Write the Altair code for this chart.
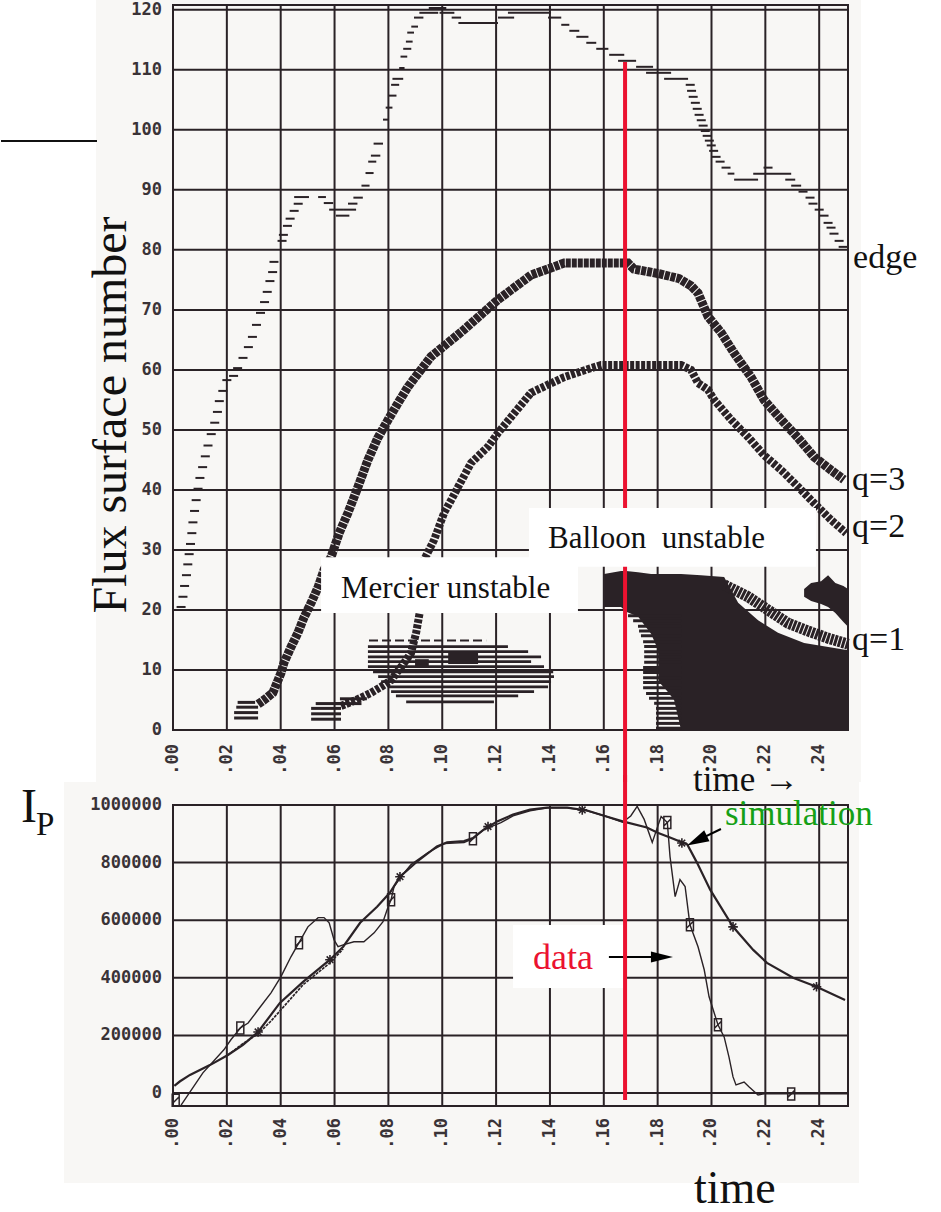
import altair as alt
import pandas as pd

# ---------------------------------------------------------------- styling
INK = "#2a2226"
LABEL_INK = "#3a3337"
PAPER = "#f8f7f5"
RED = "#eb1230"
GREEN = "#16a016"
TEXT_INK = "#111111"
SERIF = "Liberation Serif"
MONO = "DejaVu Sans Mono"
TICK_FONT_SIZE = 17

T_MAX = 0.2507
N_MAX = 120.8
I_LO, I_HI = -45000, 1000000
W, H_TOP, H_BOT, GAP = 675, 725, 301, 75

# ---------------------------------------------------------------- axis ticks
time_ticks = [0.00, 0.02, 0.04, 0.06, 0.08, 0.10, 0.12, 0.14, 0.16, 0.18, 0.20, 0.22, 0.24]
surface_ticks = [0, 10, 20, 30, 40, 50, 60, 70, 80, 90, 100, 110, 120]
current_ticks = [0, 200000, 400000, 600000, 800000, 1000000]

# ---------------------------------------------------------------- flux-surface panel data
# plasma edge: single dashes (time, surface)
edge_dashes = [
    (0.0030, 20.5), (0.0037, 22.2), (0.0043, 24.0), (0.0050, 25.8), (0.0055, 27.6),
    (0.0060, 29.3), (0.0065, 31.0), (0.0070, 32.8), (0.0074, 34.6), (0.0080, 36.5),
    (0.0086, 38.3), (0.0093, 40.2), (0.0100, 42.0), (0.0110, 43.8), (0.0120, 45.6),
    (0.0130, 47.4), (0.0142, 49.3), (0.0155, 51.2), (0.0165, 53.0), (0.0172, 54.8),
    (0.0185, 56.5), (0.0200, 58.3), (0.0225, 59.0), (0.0240, 60.3), (0.0260, 62.0),
    (0.0280, 63.8), (0.0295, 65.5), (0.0310, 67.5), (0.0325, 69.5), (0.0340, 71.3),
    (0.0350, 73.0), (0.0360, 74.8), (0.0370, 76.3), (0.0375, 78.0), (0.0405, 81.5),
    (0.0410, 82.5), (0.0425, 84.0), (0.0435, 85.2), (0.0450, 86.5), (0.0465, 87.7),
    (0.1921, 107.5), (0.1926, 106.5), (0.1932, 105.5), (0.1940, 104.5), (0.1947, 103.5),
    (0.1954, 102.5), (0.1962, 101.6), (0.1969, 100.7), (0.1977, 99.8), (0.1984, 99.0),
    (0.1992, 98.2), (0.1999, 97.4), (0.2008, 96.5), (0.2017, 95.5), (0.2032, 94.7),
    (0.2054, 93.7), (0.2210, 93.7), (0.2340, 89.7), (0.2366, 88.7), (0.2377, 87.7),
    (0.2400, 86.7), (0.2418, 85.7), (0.2433, 84.5), (0.2444, 83.7), (0.2455, 82.7),
    (0.2474, 81.5), (0.2489, 80.5),
]
# plasma edge: flat runs (start, end, surface)
edge_runs = [
    (0.0450, 0.0505, 88.8), (0.0539, 0.0568, 88.8), (0.0560, 0.0595, 87.8),
    (0.0580, 0.0635, 86.7), (0.0605, 0.0655, 85.7), (0.0635, 0.0680, 86.7),
    (0.0650, 0.0685, 87.7), (0.0670, 0.0705, 88.7), (0.0700, 0.0730, 90.7),
    (0.0715, 0.0745, 92.8), (0.0725, 0.0755, 94.7), (0.0735, 0.0770, 95.7),
    (0.0745, 0.0780, 97.7), (0.0780, 0.0800, 101.7), (0.0790, 0.0815, 103.7),
    (0.0800, 0.0830, 105.7), (0.0810, 0.0840, 107.5), (0.0815, 0.0855, 108.5),
    (0.0840, 0.0860, 110.3), (0.0845, 0.0870, 112.2), (0.0855, 0.0885, 113.5),
    (0.0865, 0.0890, 114.7), (0.0870, 0.0895, 116.2), (0.0885, 0.0910, 117.2),
    (0.0895, 0.0930, 118.7), (0.0915, 0.0985, 119.5), (0.0950, 0.1015, 120.3),
    (0.0990, 0.1045, 119.5), (0.1035, 0.1070, 118.7), (0.1060, 0.1207, 117.8),
    (0.1207, 0.1267, 118.7), (0.1244, 0.1404, 119.5), (0.1393, 0.1442, 118.7),
    (0.1442, 0.1472, 117.5), (0.1472, 0.1509, 116.5), (0.1498, 0.1543, 115.5),
    (0.1535, 0.1572, 114.5), (0.1572, 0.1617, 113.5), (0.1620, 0.1676, 112.5),
    (0.1653, 0.1720, 111.5), (0.1720, 0.1783, 110.5), (0.1757, 0.1850, 109.5),
    (0.1824, 0.1913, 108.5), (0.2060, 0.2085, 92.7), (0.2084, 0.2173, 91.7),
    (0.2155, 0.2296, 92.7), (0.2274, 0.2311, 91.7), (0.2296, 0.2333, 90.7),
]

# rational surfaces
q3_t = [0.0316, 0.0338, 0.0371, 0.0401, 0.0412, 0.0438, 0.0464, 0.0486, 0.0513, 0.0539,
        0.0561, 0.0587, 0.0617, 0.0650, 0.0687, 0.0724, 0.0761, 0.0799, 0.0836, 0.0873,
        0.0958, 0.1081, 0.1207, 0.1330, 0.1453, 0.1560, 0.1690, 0.1712, 0.1809, 0.1880,
        0.1924, 0.1950, 0.1987, 0.2036, 0.2084, 0.2147, 0.2195, 0.2259, 0.2321, 0.2381,
        0.2444, 0.2492]
q3_n = [4.3, 5.0, 6.2, 9.5, 11.2, 13.8, 16.2, 18.7, 21.2, 23.8,
        26.7, 28.8, 32.8, 36.2, 40.5, 45.0, 48.7, 51.7, 54.5, 57.2,
        62.2, 66.7, 71.7, 75.8, 77.8, 77.8, 77.8, 76.8, 76.0, 75.2,
        74.0, 72.8, 68.9, 66.2, 62.8, 58.8, 55.0, 51.7, 48.7, 45.5,
        43.3, 41.7]
q2_t = [0.0624, 0.0680, 0.0736, 0.0773, 0.0810, 0.0847, 0.0884, 0.0903, 0.0918, 0.0932,
        0.0970, 0.1007, 0.1033, 0.1059, 0.1107, 0.1170, 0.1207, 0.1330, 0.1453, 0.1553,
        0.1590, 0.1887, 0.1924, 0.1950, 0.1987, 0.2010, 0.2073, 0.2136, 0.2195, 0.2259,
        0.2322, 0.2381, 0.2444, 0.2500]
q2_n = [4.0, 5.0, 6.2, 7.2, 8.3, 10.5, 12.8, 16.2, 20.0, 28.3,
        31.7, 36.2, 38.3, 40.5, 44.5, 47.2, 49.5, 56.2, 58.8, 60.3,
        60.8, 60.8, 60.0, 57.8, 56.7, 55.0, 51.7, 48.8, 45.8, 43.3,
        40.5, 37.8, 35.0, 32.8]
q1_t = [0.2047, 0.2136, 0.2210, 0.2284, 0.2358, 0.2433, 0.2507]
q1_n = [24.2, 22.2, 20.0, 17.8, 16.5, 15.3, 14.3]
# marker rows where the q=3 and q=2 surfaces first appear (t0, t1, surface)
start_rows = [
    (0.0227, 0.0316, 2.0), (0.0227, 0.0316, 2.9), (0.0235, 0.0316, 3.8), (0.0240, 0.0305, 4.6),
    (0.0513, 0.0624, 1.8), (0.0513, 0.0624, 2.7), (0.0513, 0.0624, 3.6), (0.0530, 0.0640, 4.4),
    (0.0600, 0.0700, 4.4), (0.0620, 0.0720, 5.2),
]

# Mercier-unstable surfaces (t0, t1, surface)
mercier_rows = [
    (0.0724, 0.1244, 13.9), (0.0724, 0.1319, 13.05), (0.0724, 0.1367, 12.2),
    (0.0724, 0.1330, 11.4), (0.0724, 0.1378, 10.55), (0.0743, 0.1412, 9.7),
    (0.0762, 0.1415, 8.9), (0.0773, 0.1404, 8.05), (0.0799, 0.1393, 7.2),
    (0.0810, 0.1341, 6.4), (0.0828, 0.1282, 5.67), (0.0866, 0.1192, 4.7),
]
mercier_fringe = [(0.0728, 0.1163, 14.9)]
mercier_blocks = [(0.1022, 0.1133, 11.0, 13.0), (0.0899, 0.0950, 10.4, 11.8)]

# ballooning-unstable region
balloon_t = [0.1601, 0.1664, 0.1683, 0.1727, 0.1776, 0.1802, 0.1805, 0.1835, 0.1861,
             0.1887, 0.1961, 0.2047, 0.2099, 0.2173, 0.2247, 0.2344, 0.2507]
balloon_top = [26.0, 26.5, 26.5, 26.3, 26.0, 26.0, 26.0, 26.0, 26.0,
               26.0, 25.8, 25.5, 21.2, 18.3, 16.2, 14.5, 13.3]
balloon_bottom = [20.5, 20.5, 19.7, 18.9, 16.0, 13.3, 8.0, 6.5, 5.0,
                  0.0, 0.0, 0.0, 0.0, 0.0, 0.0, 0.0, 0.0]
balloon_stripes = [
    (0.1690, 19.05), (0.1709, 18.2), (0.1727, 17.3), (0.1731, 16.5), (0.1738, 15.7),
    (0.1746, 14.7), (0.1750, 13.9), (0.1750, 13.05), (0.1750, 12.2), (0.1750, 11.3),
    (0.1746, 10.4), (0.1746, 9.6), (0.1746, 8.7), (0.1746, 7.9), (0.1746, 7.05),
    (0.1757, 6.1), (0.1768, 5.3), (0.1787, 4.45), (0.1794, 3.6), (0.1794, 2.8),
    (0.1794, 1.95), (0.1794, 1.1), (0.1794, 0.3),
]
stripe_end = 0.1887
star_t = [0.2344, 0.2370, 0.2407, 0.2433, 0.2460, 0.2490, 0.2507]
star_lo = [22.2, 21.5, 21.0, 20.5, 19.5, 18.0, 17.2]
star_hi = [23.5, 24.5, 24.8, 25.8, 24.5, 24.0, 23.5]

sawtooth_time = 0.1679
sawtooth_edge = 111.3

# ---------------------------------------------------------------- plasma-current panel data
data_curve = [
    (0.0030, -42000), (0.0111, 70000), (0.0189, 150000), (0.0215, 185000), (0.0250, 226000),
    (0.0279, 243000), (0.0316, 289000), (0.0364, 348000), (0.0401, 404000), (0.0438, 473000),
    (0.0468, 522000), (0.0501, 577000), (0.0539, 609000), (0.0561, 609000), (0.0580, 591000),
    (0.0598, 532000), (0.0613, 508000), (0.0635, 515000), (0.0672, 525000), (0.0709, 525000),
    (0.0747, 556000), (0.0780, 595000), (0.0799, 647000), (0.0810, 671000), (0.0821, 717000),
    (0.0847, 751000), (0.0884, 793000), (0.0947, 835000), (0.1007, 866000), (0.1081, 870000),
    (0.1114, 883000), (0.1155, 915000), (0.1218, 939000), (0.1263, 962000), (0.1326, 980000),
    (0.1390, 990000), (0.1464, 990000), (0.1538, 980000), (0.1610, 960000), (0.1670, 940000),
    (0.1700, 962000), (0.1724, 995000), (0.1750, 950000), (0.1780, 870000), (0.1800, 925000),
    (0.1813, 960000), (0.1836, 939000), (0.1846, 821000), (0.1865, 682000), (0.1883, 741000),
    (0.1902, 717000), (0.1920, 584000), (0.1950, 508000), (0.1973, 428000), (0.1991, 334000),
    (0.2024, 237000), (0.2047, 195000), (0.2065, 125000), (0.2080, 56000), (0.2091, 28000),
    (0.2121, 38000), (0.2140, 21000), (0.2173, -7000), (0.2195, -3000), (0.2507, -3000),
]
sim_curve = [
    (0.0005, 25000), (0.0025, 40000), (0.0063, 63000), (0.0137, 97000), (0.0204, 132000),
    (0.0260, 167000), (0.0316, 212000), (0.0397, 313000), (0.0483, 386000), (0.0583, 463000),
    (0.0632, 508000), (0.0695, 591000), (0.0758, 647000), (0.0806, 696000), (0.0843, 751000),
    (0.0906, 803000), (0.0980, 856000), (0.1018, 870000), (0.1081, 875000), (0.1114, 885000),
    (0.1155, 915000), (0.1204, 943000), (0.1263, 967000), (0.1326, 984000), (0.1390, 991000),
    (0.1464, 991000), (0.1538, 981000), (0.1610, 960000), (0.1670, 943000), (0.1760, 922000),
    (0.1800, 904000), (0.1846, 887000), (0.1910, 863000), (0.1946, 800000), (0.1995, 706000),
    (0.2080, 577000), (0.2155, 497000), (0.2206, 452000), (0.2303, 400000), (0.2390, 369000),
    (0.2496, 323000),
]
sim_alt_curve = [
    (0.0204, 132000), (0.0260, 172000), (0.0316, 205000), (0.0364, 250000), (0.0401, 289000),
    (0.0483, 376000), (0.0583, 452000), (0.0632, 500000),
]
data_markers = [(0.0010, -25000), (0.0250, 226000), (0.0468, 522000), (0.0810, 671000),
                (0.1114, 883000), (0.1836, 939000), (0.1920, 584000), (0.2024, 237000),
                (0.2296, -3000)]
sim_markers = [(0.0316, 212000), (0.0583, 463000), (0.0843, 751000), (0.1170, 925000),
               (0.1520, 983000), (0.1890, 868000), (0.2080, 577000), (0.2390, 369000)]

# ---------------------------------------------------------------- helpers
XS = alt.Scale(domain=[0, T_MAX], nice=False, zero=False)
NS = alt.Scale(domain=[0, N_MAX], nice=False, zero=False)
IS = alt.Scale(domain=[I_LO, I_HI], nice=False, zero=False)

BOX_SHAPE = "M-0.5,-0.86H0.5V0.86H-0.5ZM0.5,-0.5L-0.5,0.5"
STAR_SHAPE = "M-0.8,0H0.8M0,-0.8V0.8M-0.55,-0.55L0.55,0.55M-0.55,0.55L0.55,-0.55"
HEAD_RIGHT = "M1,0L-1,-0.5L-1,0.5Z"
HEAD_LEFT = "M-1,0L1,-0.55L1,0.55Z"

one = pd.DataFrame({"k": [0]})


def xq(field):
    return alt.X(f"{field}:Q", scale=XS, axis=None)


def yn(field):
    return alt.Y(f"{field}:Q", scale=NS, axis=None)


def yi(field):
    return alt.Y(f"{field}:Q", scale=IS, axis=None)


def time_labels(y_px):
    # tick labels ".00", ".02", ... written upward below the panel
    return alt.Chart(pd.DataFrame({"t": time_ticks})).transform_calculate(
        s="substring(format(datum.t, '.2f'), 1)"
    ).mark_text(font=MONO, fontSize=TICK_FONT_SIZE, fontWeight="bold", color=LABEL_INK,
                angle=270, align="right", baseline="middle").encode(
        x=xq("t"), y=alt.value(y_px), text="s:N")


def value_labels(values, field, yenc):
    return alt.Chart(pd.DataFrame({field: values})).mark_text(
        font=MONO, fontSize=TICK_FONT_SIZE, fontWeight="bold", color=LABEL_INK, align="right",
        baseline="middle").encode(x=alt.value(-11), y=yenc(field),
                                  text=alt.Text(f"{field}:Q", format="d"))


def rows_layer(rows, width, dash=None):
    df = pd.DataFrame(rows, columns=["t0", "t1", "n"])
    kw = dict(color=INK, strokeWidth=width)
    if dash:
        kw["strokeDash"] = dash
    return alt.Chart(df).mark_rule(**kw).encode(x=xq("t0"), x2=alt.X2("t1:Q"), y=yn("n"))


# ================================================================ upper panel
top_bg = alt.Chart(one).mark_rect(color=PAPER).encode(
    x=alt.value(-77), x2=alt.value(688), y=alt.value(-5), y2=alt.value(777))
side_rule = alt.Chart(one).mark_rule(color=TEXT_INK, strokeWidth=2).encode(
    x=alt.value(-172), x2=alt.value(-76), y=alt.value(136))

vgrid = alt.Chart(pd.DataFrame({"t": time_ticks})).mark_rule(color=INK, strokeWidth=2).encode(
    x=xq("t"))
hgrid = alt.Chart(pd.DataFrame({"n": surface_ticks})).mark_rule(color=INK, strokeWidth=2).encode(
    y=yn("n"))
top_frame = alt.Chart(one).mark_rect(fillOpacity=0, stroke=INK, strokeWidth=2).encode(
    x=alt.value(0), x2=alt.value(W), y=alt.value(0), y2=alt.value(H_TOP))
top_xlab = time_labels(H_TOP + 14)
top_ylab = value_labels(surface_ticks, "n", yn)

edge_d = alt.Chart(pd.DataFrame(edge_dashes, columns=["t", "n"])).mark_tick(
    orient="horizontal", color=INK, size=9, thickness=2, opacity=1).encode(x=xq("t"), y=yn("n"))
edge_r = rows_layer(edge_runs, 2)

merc = rows_layer(mercier_rows, 2.8)
merc_f = rows_layer(mercier_fringe, 2, dash=[9, 4])
merc_b = alt.Chart(pd.DataFrame(mercier_blocks, columns=["t0", "t1", "n0", "n1"])).mark_rect(
    color=INK).encode(x=xq("t0"), x2=alt.X2("t1:Q"), y=yn("n0"), y2=alt.Y2("n1:Q"))

starts = rows_layer(start_rows, 3)

q3 = alt.Chart(pd.DataFrame({"t": q3_t, "n": q3_n})).mark_line(
    color=INK, strokeWidth=9, strokeDash=[5, 1]).encode(x=xq("t"), y=yn("n"))
q2 = alt.Chart(pd.DataFrame({"t": q2_t, "n": q2_n})).mark_line(
    color=INK, strokeWidth=8, strokeDash=[4, 1.5]).encode(x=xq("t"), y=yn("n"))

balloon = alt.Chart(pd.DataFrame({"t": balloon_t, "top": balloon_top, "bot": balloon_bottom})
                    ).mark_area(color=INK, opacity=1).encode(
    x=xq("t"), y=yn("top"), y2=alt.Y2("bot:Q"))
stripes_df = pd.DataFrame(balloon_stripes, columns=["t0", "n"])
stripes_df["t1"] = stripe_end
stripes = alt.Chart(stripes_df).mark_rule(color=INK, strokeWidth=3).encode(
    x=xq("t0"), x2=alt.X2("t1:Q"), y=yn("n"))
star = alt.Chart(pd.DataFrame({"t": star_t, "lo": star_lo, "hi": star_hi})).mark_area(
    color=INK, opacity=1).encode(x=xq("t"), y=yn("hi"), y2=alt.Y2("lo:Q"))
q1 = alt.Chart(pd.DataFrame({"t": q1_t, "n": q1_n})).mark_line(
    color=INK, strokeWidth=11, strokeDash=[3, 1]).encode(x=xq("t"), y=yn("n"))

merc_box = alt.Chart(pd.DataFrame({"t0": [0.0550], "t1": [0.1504], "n0": [19.5], "n1": [28.8]})
                     ).mark_rect(color="white").encode(
    x=xq("t0"), x2=alt.X2("t1:Q"), y=yn("n0"), y2=alt.Y2("n1:Q"))
merc_txt = alt.Chart(pd.DataFrame({"t": [0.0624], "n": [22.0], "s": ["Mercier unstable"]})
                     ).mark_text(font=SERIF, fontSize=31, color=TEXT_INK, align="left",
                                 baseline="alphabetic").encode(x=xq("t"), y=yn("n"), text="s:N")

red_top = alt.Chart(pd.DataFrame({"t": [sawtooth_time], "n": [sawtooth_edge]})).mark_rule(
    color=RED, strokeWidth=4).encode(x=xq("t"), y=yn("n"), y2=alt.value(H_TOP + GAP))

ball_box = alt.Chart(pd.DataFrame({"t0": [0.1322], "t1": [0.2388], "n0": [27.2], "n1": [37.0]})
                     ).mark_rect(color="white").encode(
    x=xq("t0"), x2=alt.X2("t1:Q"), y=yn("n0"), y2=alt.Y2("n1:Q"))
ball_txt = alt.Chart(pd.DataFrame({"t": [0.1393], "n": [30.3], "s": ["Balloon\u00a0 unstable"]})
                     ).mark_text(font=SERIF, fontSize=31, color=TEXT_INK, align="left",
                                 baseline="alphabetic").encode(x=xq("t"), y=yn("n"), text="s:N")

side_labels = alt.Chart(pd.DataFrame({
    "t": [0.2526, 0.2522, 0.2522, 0.2522],
    "n": [77.0, 40.0, 32.2, 13.3],
    "s": ["edge", "q=3", "q=2", "q=1"],
})).mark_text(font=SERIF, fontSize=34, color=TEXT_INK, align="left",
              baseline="alphabetic").encode(x=xq("t"), y=yn("n"), text="s:N")

flux_title = alt.Chart(one).mark_text(font=SERIF, fontSize=48, color=TEXT_INK, angle=270,
                                      align="center", baseline="alphabetic").encode(
    x=alt.value(-47), y=alt.value(410), text=alt.value("Flux surface number"))

top = alt.layer(
    top_bg, side_rule, vgrid, hgrid, top_frame, top_xlab, top_ylab,
    edge_r, edge_d, merc, merc_f, merc_b, starts, q3, q2,
    balloon, stripes, star, q1,
    merc_box, merc_txt, red_top, ball_box, ball_txt, side_labels, flux_title,
).properties(width=W, height=H_TOP)

# ================================================================ lower panel
bot_bg = alt.Chart(one).mark_rect(color=PAPER).encode(
    x=alt.value(-109), x2=alt.value(686), y=alt.value(-23), y2=alt.value(378))
vgrid_b = alt.Chart(pd.DataFrame({"t": time_ticks})).mark_rule(color=INK, strokeWidth=2).encode(
    x=xq("t"))
hgrid_b = alt.Chart(pd.DataFrame({"i": current_ticks})).mark_rule(color=INK, strokeWidth=2).encode(
    y=yi("i"))
bot_frame = alt.Chart(one).mark_rect(fillOpacity=0, stroke=INK, strokeWidth=2).encode(
    x=alt.value(0), x2=alt.value(W), y=alt.value(0), y2=alt.value(H_BOT))
bot_xlab = time_labels(H_BOT + 12)
bot_ylab = value_labels(current_ticks, "i", yi)

sim_alt = alt.Chart(pd.DataFrame(sim_alt_curve, columns=["t", "i"])).mark_line(
    color=INK, strokeWidth=1.6, strokeDash=[3, 1]).encode(x=xq("t"), y=yi("i"))
sim = alt.Chart(pd.DataFrame(sim_curve, columns=["t", "i"])).mark_line(
    color=INK, strokeWidth=2.2).encode(x=xq("t"), y=yi("i"))
meas = alt.Chart(pd.DataFrame(data_curve, columns=["t", "i"])).mark_line(
    color=INK, strokeWidth=1.4).encode(x=xq("t"), y=yi("i"))
meas_pts = alt.Chart(pd.DataFrame(data_markers, columns=["t", "i"])).mark_point(
    shape=BOX_SHAPE, size=196, filled=False, color=INK, strokeWidth=1.5, opacity=1).encode(
    x=xq("t"), y=yi("i"))
sim_pts = alt.Chart(pd.DataFrame(sim_markers, columns=["t", "i"])).mark_point(
    shape=STAR_SHAPE, size=144, filled=False, color=INK, strokeWidth=1.6, opacity=1).encode(
    x=xq("t"), y=yi("i"))

data_box = alt.Chart(pd.DataFrame({"t0": [0.1263], "t1": [0.1675], "i0": [364700], "i1": [583400]})
                     ).mark_rect(color="white").encode(
    x=xq("t0"), x2=alt.X2("t1:Q"), y=yi("i0"), y2=alt.Y2("i1:Q"))
data_txt = alt.Chart(pd.DataFrame({"t": [0.1337], "i": [430600], "s": ["data"]})).mark_text(
    font=SERIF, fontSize=36, color=RED, align="left", baseline="alphabetic").encode(
    x=xq("t"), y=yi("i"), text="s:N")
data_arrow = alt.Chart(pd.DataFrame({"t0": [0.1619], "t1": [0.1816], "i": [472300]})).mark_rule(
    color="black", strokeWidth=2).encode(x=xq("t0"), x2=alt.X2("t1:Q"), y=yi("i"))
data_head = alt.Chart(pd.DataFrame({"t": [0.1816], "i": [472300]})).mark_point(
    shape=HEAD_RIGHT, size=484, filled=True, color="black", opacity=1).encode(
    x=xq("t"), y=yi("i"))

sim_txt = alt.Chart(pd.DataFrame({"t": [0.2050], "i": [930600], "s": ["simulation"]})).mark_text(
    font=SERIF, fontSize=35, color=GREEN, align="left", baseline="alphabetic").encode(
    x=xq("t"), y=yi("i"), text="s:N")
sim_arrow = alt.Chart(pd.DataFrame({"t0": [0.2035], "t1": [0.1946], "i0": [916700], "i1": [876400]})
                      ).mark_rule(color="black", strokeWidth=2).encode(
    x=xq("t0"), x2=alt.X2("t1:Q"), y=yi("i0"), y2=alt.Y2("i1:Q"))
sim_head = alt.Chart(pd.DataFrame({"t": [0.1946], "i": [876400]})).mark_point(
    shape=HEAD_LEFT, size=484, angle=334, filled=True, color="black", opacity=1).encode(
    x=xq("t"), y=yi("i"))

red_bot = alt.Chart(pd.DataFrame({"t": [sawtooth_time], "i": [-24000]})).mark_rule(
    color=RED, strokeWidth=4).encode(x=xq("t"), y=yi("i"), y2=alt.value(-30))

time_arrow_lbl = alt.Chart(one).mark_text(font=SERIF, fontSize=35, color=TEXT_INK, align="left",
                                          baseline="alphabetic").encode(
    x=alt.value(520), y=alt.value(-14), text=alt.value("time \u2192"))
time_lbl = alt.Chart(one).mark_text(font=SERIF, fontSize=46, color=TEXT_INK, align="left",
                                    baseline="alphabetic").encode(
    x=alt.value(521), y=alt.value(398), text=alt.value("time"))
ip_main = alt.Chart(one).mark_text(font=SERIF, fontSize=48, color=TEXT_INK, align="left",
                                   baseline="alphabetic").encode(
    x=alt.value(-152), y=alt.value(17), text=alt.value("I"))
ip_sub = alt.Chart(one).mark_text(font=SERIF, fontSize=33, color=TEXT_INK, align="left",
                                  baseline="alphabetic").encode(
    x=alt.value(-137), y=alt.value(30), text=alt.value("P"))

bottom = alt.layer(
    bot_bg, vgrid_b, hgrid_b, bot_frame, bot_xlab, bot_ylab,
    sim_alt, sim, meas, meas_pts, sim_pts,
    data_box, data_txt, data_arrow, data_head, red_bot,
    sim_txt, sim_arrow, sim_head, time_arrow_lbl, time_lbl, ip_main, ip_sub,
).properties(width=W, height=H_BOT)

chart = alt.vconcat(top, bottom, spacing=GAP, bounds="flush").properties(
    padding=0, background="white").configure_view(strokeWidth=0)

chart.save("out.html", embed_options={"renderer": "svg", "actions": False})
